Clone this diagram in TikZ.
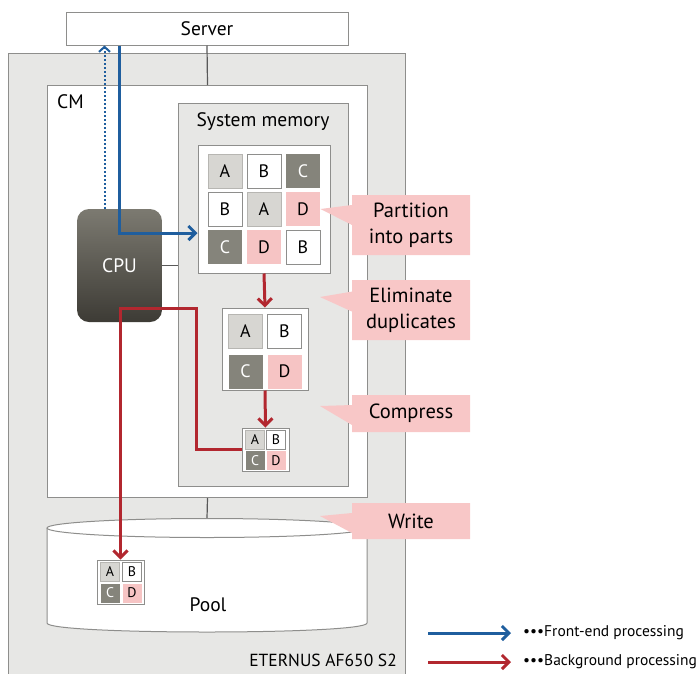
\documentclass[tikz,border=0pt]{standalone}
\usepackage{fontspec}
\setmainfont{PT Sans}
\usetikzlibrary{arrows.meta,shapes.callouts}

\definecolor{boxgray}{HTML}{E7E7E5}
\definecolor{linegray}{HTML}{8E8E8C}
\definecolor{cellgray}{HTML}{D7D6D2}
\definecolor{celldark}{HTML}{85847B}
\definecolor{cellpink}{HTML}{F6C4C4}
\definecolor{notepink}{HTML}{F8C7C7}
\definecolor{frontblue}{HTML}{1F5E9E}
\definecolor{backred}{HTML}{B2272F}
\definecolor{cputop}{HTML}{7C7A71}
\definecolor{cpubot}{HTML}{3D3B35}

\begin{document}
\begin{tikzpicture}[x=1pt,y=-1pt,
  txt/.style={font=\fontsize{19.5}{22}\selectfont, inner sep=0pt},
  box/.style={draw=linegray, line width=1pt, fill=#1, inner sep=0pt},
  link/.style={draw=black!65, line width=1.2pt},
  cell/.style={minimum size=34, inner sep=0pt, line width=1pt, font=\fontsize{18}{18}\selectfont},
  small/.style={minimum size=19, font=\fontsize{14}{14}\selectfont},
  la/.style={cell, fill=cellgray, draw=cellgray!85!black},
  wb/.style={cell, fill=white, draw=linegray},
  dk/.style={cell, fill=celldark, text=white},
  pk/.style={cell, fill=cellpink},
  cpu/.style={rounded corners=12, top color=cputop, bottom color=cpubot,
    minimum width=85, minimum height=113, text=white, font=\fontsize{19.5}{20}\selectfont},
  note/.style={rectangle callout, fill=notepink, minimum width=118, callout pointer width=20,
    align=center, inner sep=0pt, font=\fontsize{20.5}{26}\selectfont},
  front/.style={draw=frontblue, line width=3pt, -{Straight Barb[length=7pt,width=14pt]}},
  frontdot/.style={draw=frontblue, line width=2pt, dotted, -{Straight Barb[length=5pt,width=11pt]}},
  back/.style={draw=backred, line width=3pt, -{Straight Barb[length=7pt,width=14pt]}},
  legend/.style={font=\fontsize{15.5}{15.5}\selectfont, inner sep=0pt, anchor=west}
]
\useasboundingbox (0,0) rectangle (699,673);

% boxes
\node[box=boxgray, minimum width=397, minimum height=630, anchor=north west] (eternus) at (8,53) {};
\node[box=white, minimum width=282, minimum height=33] (server) at (207,28.5) {};
\node[txt] (server-label) at (server) {Server};
\node[box=white, minimum width=320, minimum height=412, anchor=north west] (cm) at (47,85) {};
\node[txt, anchor=west] (cm-label) at (57,102) {CM};
\node[box=boxgray, minimum width=170, minimum height=383, anchor=north west] (sysmem) at (178,103) {};
\node[txt] (sysmem-label) at (263,122) {System memory};
\node[txt, font=\fontsize{17.5}{20}\selectfont, anchor=east] (eternus-label) at (397,660) {ETERNUS AF650 S2};

\draw[link] (server.south) -- (cm.north);

% pool
\coordinate (pooltop) at (207,518.5);
\draw[link] (cm.south) -- (pooltop);
\draw[draw=linegray, line width=1pt, fill=white] (47,528) -- (47,623)
  .. controls (47,635) and (367,635) .. (367,623) -- (367,528);
\draw[draw=linegray, line width=1pt, fill=white] (207,528) ellipse [x radius=160pt, y radius=9.5pt];
\node[txt] (pool) at (208,605) {Pool};

% cpu
\node[cpu] (cpu) at (119.5,265.5) {CPU};
\draw[link] (cpu.east) -- (cpu.east -| sysmem.west);

% data blocks
\node[box=white, minimum width=132, minimum height=128] (grid1) at (264,209) {};
\foreach \c/\r/\t/\s in {0/0/A/la,1/0/B/wb,2/0/C/dk,0/1/B/wb,1/1/A/la,2/1/D/pk,0/2/C/dk,1/2/D/pk,2/2/B/wb}
  \node[\s] (g1-\c\r) at (225+39*\c,171+38*\r) {\t};

\node[box=white, minimum width=86, minimum height=82] (grid2) at (265,349) {};
\foreach \c/\r/\t/\s in {0/0/A/la,1/0/B/wb,0/1/C/dk,1/1/D/pk}
  \node[\s] (g2-\c\r) at (245.5+39*\c,331.5+40*\r) {\t};

\node[box=white, minimum width=47, minimum height=43] (grid3) at (265.5,449.5) {};
\foreach \c/\r/\t/\s in {0/0/A/la,1/0/B/wb,0/1/C/dk,1/1/D/pk}
  \node[\s, small] (g3-\c\r) at (255+21*\c,439.5+21*\r) {\t};

\node[box=white, minimum width=47, minimum height=44] (poolgrid) at (120.5,582) {};
\foreach \c/\r/\t/\s in {0/0/A/la,1/0/B/wb,0/1/C/dk,1/1/D/pk}
  \node[\s, small] (p-\c\r) at (110+22*\c,571.5+21.5*\r) {\t};

% callouts
\node[note, minimum height=60, callout absolute pointer={(g1-21.east)}] (partition) at (411,225) {Partition\\into parts};
\node[note, minimum height=60, callout absolute pointer={(320,297)}] (eliminate) at (411,310) {Eliminate\\duplicates};
\node[note, minimum height=37, callout absolute pointer={(320,406)}] (compress) at (411,413.5) {Compress};
\node[note, minimum height=36, callout absolute pointer={(320,516)}] (write) at (411,521) {Write};

% processing flows
\draw[front] (server.south -| cpu.north) |- ([yshift=-24]grid1.west);
\draw[frontdot] ([xshift=-15]cpu.north) -- ([xshift=-15]cpu.north |- server.south);
\draw[back] (grid1.south) -- (grid2.north);
\draw[back] (grid2.south) -- (grid3.north);
\coordinate (turn) at (196,308);
\draw[back] (grid3.west) -| (turn) -| (poolgrid.north);

% legend
\node[legend] (lfront) at (523,633) {•••Front-end processing};
\node[legend] (lback) at (523,662) {•••Background processing};
\coordinate (lf0) at (428,633);
\coordinate (lb0) at (428,662);
\draw[front] (lf0) -- ([xshift=-12]lfront.west);
\draw[back] (lb0) -- ([xshift=-12]lback.west);
\end{tikzpicture}
\end{document}
